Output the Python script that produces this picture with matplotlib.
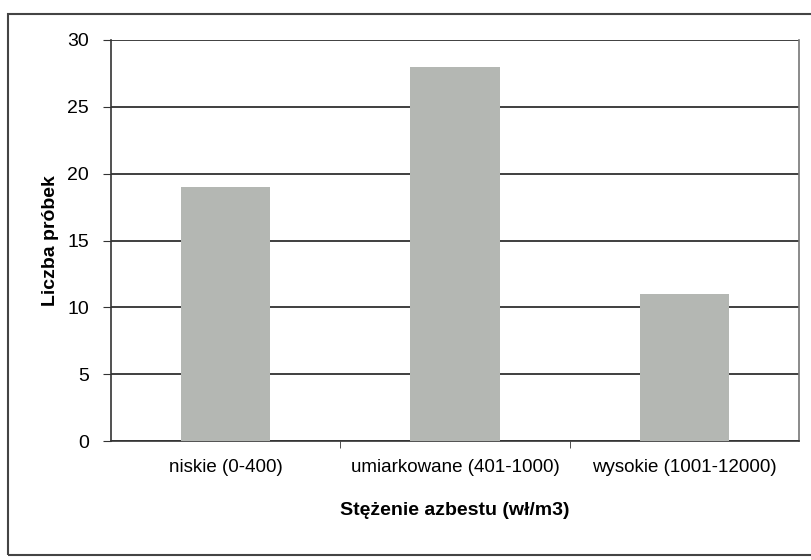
import matplotlib.pyplot as plt
from matplotlib.patches import Rectangle

categories = ["niskie (0-400)", "umiarkowane (401-1000)", "wysokie (1001-12000)"]
counts = [19, 28, 11]
yticks = [0, 5, 10, 15, 20, 25, 30]

plt.rcParams['font.family'] = ['Liberation Sans', 'DejaVu Sans']

fig = plt.figure(figsize=(8.12, 5.6), dpi=100)
ax = fig.add_axes([111 / 812, 1 - 441 / 560, 688 / 812, 401 / 560])

# outer chart frame
fig.patches.append(Rectangle((8 / 812, 1 - 555 / 560), 1.2, 541 / 560,
                             transform=fig.transFigure, fill=False,
                             edgecolor='#444444', linewidth=1.5))

x = range(len(categories))
ax.bar(x, counts, width=0.39, color='#b4b7b3', zorder=3)

ax.set_xlim(-0.5, len(categories) - 0.5)
ax.set_ylim(0, 30)
ax.set_yticks(yticks)
ax.yaxis.grid(True, color='#303030', linewidth=1.3, zorder=0)

ax.set_xticks(x)
ax.set_xticklabels(categories, fontsize=13.5)
ax.set_xticks([0.5, 1.5], minor=True)
ax.tick_params(axis='x', which='major', length=0, pad=13)
ax.tick_params(axis='x', which='minor', length=5, color='#333333')
ax.tick_params(axis='y', labelsize=14, length=6, color='#333333', pad=10)

ax.spines['top'].set_visible(False)
ax.spines['left'].set_color('#333333')
ax.spines['bottom'].set_color('#333333')
ax.spines['right'].set_color('#777777')
for s in ax.spines.values():
    s.set_linewidth(1.2)

ax.set_ylabel('Liczba próbek', fontsize=14, fontweight='bold', labelpad=6)
ax.set_xlabel('Stężenie azbestu (wł/m3)', fontsize=14, fontweight='bold', labelpad=19)

fig.savefig('out.png', dpi=100)
